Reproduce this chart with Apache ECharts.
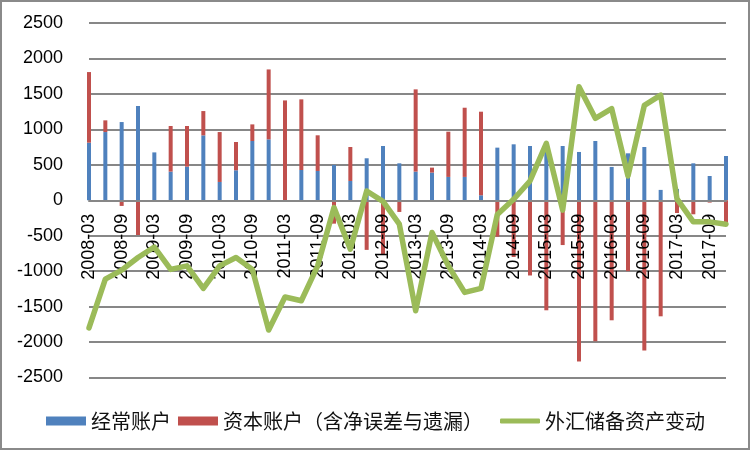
<!DOCTYPE html>
<html>
<head>
<meta charset="utf-8">
<script src="https://cdn.jsdelivr.net/npm/echarts@6/dist/echarts.min.js"></script>
<style>
html,body{margin:0;padding:0;background:#fff;}
#chart{width:752px;height:452px;}
</style>
</head>
<body>
<div id="chart"></div>
<script>
var categories = [];
var years = [2008,2009,2010,2011,2012,2013,2014,2015,2016,2017];
var months = ['03','06','09','12'];
years.forEach(function(y){ months.forEach(function(m){ categories.push(y + '-' + m); }); });

var currentAccount = [812, 962, 1103, 1329, 675, 404, 474, 915, 258, 423,
  836, 859, 0, 427, 413, 498, 272, 592, 765, 521,
  404, 390, 329, 329, 70, 742, 789, 765, 700, 765,
  681, 836, 470, 662, 751, 146, 160, 521, 342, 624];

var capitalAccount = [996, 165, -80, -490, 0, 643, 573, 343, 704, 399,
  234, 986, 1408, 996, 503, -330, 479, -700, -760, -165,
  1160, 70, 638, 976, 1179, -514, -800, -1061, -1552, -632,
  -2274, -1990, -1693, -1000, -2118, -1637, -180, -198, -33, -338];

var reserveChange = [-1800, -1113, -985, -808, -660, -975, -925, -1244, -925, -808,
  -975, -1831, -1365, -1418, -925, -103, -690, 131, -15, -338,
  -1558, -455, -925, -1300, -1243, -200, 14, 272, 803, -140,
  1601, 1155, 1291, 342, 1338, 1483, 20, -305, -305, -338];

var seriesNames = ['经常账户', '资本账户（含净误差与遗漏）', '外汇储备资产变动'];

var legendText = {fontFamily: 'Noto Sans CJK SC', fontSize: 20, color: '#111'};

var chart = echarts.init(document.getElementById('chart'), null, {renderer: 'canvas'});
chart.setOption({
  animation: false,
  backgroundColor: '#fff',
  graphic: [{
    type: 'rect',
    shape: {x: 1, y: 1, width: 748, height: 448},
    style: {fill: 'none', stroke: '#8a8a8a', lineWidth: 2},
    silent: true
  }],
  grid: {left: 89, right: 26, top: 23, bottom: 74.5, containLabel: false},
  legend: [{
    left: 41, top: 406,
    itemWidth: 40, itemHeight: 9, itemGap: 7,
    textStyle: legendText,
    data: [
      {name: seriesNames[0], icon: 'rect'},
      {name: seriesNames[1], icon: 'rect'}
    ]
  }, {
    left: 495, top: 406,
    itemWidth: 40, itemHeight: 5,
    textStyle: legendText,
    data: [{name: seriesNames[2], icon: 'roundRect'}]
  }],
  xAxis: {
    type: 'category',
    data: categories,
    boundaryGap: false,
    position: 'bottom',
    offset: -176.7,
    z: 2.5,
    axisLine: {onZero: false, lineStyle: {color: '#878787', width: 2}},
    axisTick: {show: false},
    axisLabel: {
      interval: 1, rotate: 90, margin: 13,
      fontFamily: 'Liberation Sans', fontSize: 18, color: '#000'
    },
    splitLine: {show: false}
  },
  yAxis: {
    type: 'value',
    min: -2500, max: 2500, interval: 500,
    axisLine: {show: false},
    axisTick: {show: false},
    axisLabel: {
      margin: 26, fontFamily: 'Liberation Sans', fontSize: 18, color: '#000',
      formatter: function (v) { return String(v); }
    },
    splitLine: {lineStyle: {color: '#878787', width: 2}}
  },
  series: [
    {
      name: seriesNames[0], type: 'bar', stack: 'bop',
      data: currentAccount, barWidth: 4,
      itemStyle: {color: '#4F81BD'}
    },
    {
      name: seriesNames[1], type: 'bar', stack: 'bop',
      data: capitalAccount, barWidth: 4,
      itemStyle: {color: '#C0504D'}
    },
    {
      name: seriesNames[2], type: 'line',
      data: reserveChange, symbol: 'none', smooth: false,
      lineStyle: {color: '#9BBB59', width: 5.5, join: 'round', cap: 'round'},
      itemStyle: {color: '#9BBB59'},
      z: 3
    }
  ]
});
</script>
</body>
</html>
